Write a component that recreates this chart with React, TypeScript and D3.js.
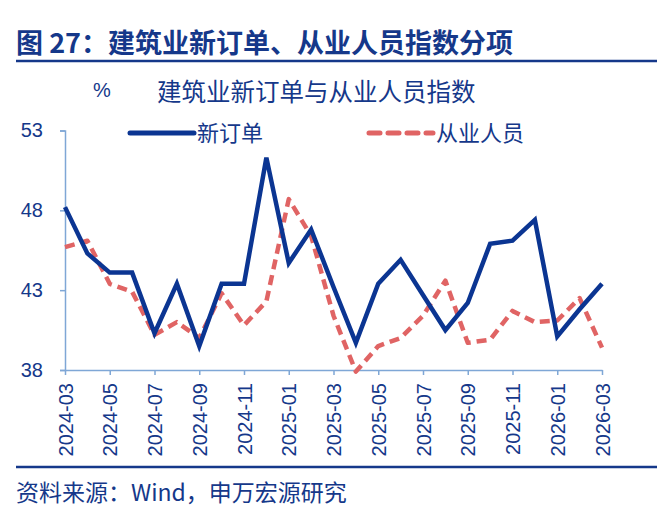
import * as d3 from 'd3';
import { useEffect, useRef } from 'react';

// monthly, 2024-03 .. 2026-03
const months = [
  '2024-03', '2024-04', '2024-05', '2024-06', '2024-07', '2024-08', '2024-09',
  '2024-10', '2024-11', '2024-12', '2025-01', '2025-02', '2025-03', '2025-04',
  '2025-05', '2025-06', '2025-07', '2025-08', '2025-09', '2025-10', '2025-11',
  '2025-12', '2026-01', '2026-02', '2026-03',
];

const newOrders = [
  48.2, 45.3, 44.1, 44.1, 40.3, 43.4, 39.5, 43.4, 43.4, 51.3, 44.7, 46.8, 43.2,
  39.7, 43.4, 44.9, 42.7, 40.5, 42.2, 45.9, 46.1, 47.4, 40.1, 41.8, 43.4,
];

const employment = [
  45.7, 46.1, 43.4, 42.9, 40.2, 41.0, 40.0, 42.8, 40.8, 42.3, 48.7, 46.4, 41.4,
  37.9, 39.5, 40.0, 41.4, 43.6, 39.7, 39.9, 41.7, 41.0, 41.1, 42.5, 39.4,
];

const xTickLabels = months.filter((_, i) => i % 2 === 0);
const yTicks = [38, 43, 48, 53];

const seriesNames = ['新订单', '从业人员'];

const FIG_TITLE = '图 27：建筑业新订单、从业人员指数分项';
const CHART_TITLE = '建筑业新订单与从业人员指数';
const SOURCE = '资料来源：Wind，申万宏源研究';

const NAVY = '#15388a';
const BLUE = '#0b3592';
const RED = '#e06464';
const AXIS = '#7fa7d6';
const CJK = '"Noto Sans CJK SC", "Liberation Sans", sans-serif';
const LATIN = '"Liberation Sans", Arial, sans-serif';

export default function App() {
  const ref = useRef<SVGSVGElement>(null);

  useEffect(() => {
    const W = 657;
    const H = 519;
    const svg = d3.select(ref.current).attr('width', W).attr('height', H);
    svg.selectAll('*').remove();

    const x = d3.scalePoint<string>().domain(months).range([65, 602]);
    const y = d3.scaleLinear().domain([38, 53]).range([370, 130.5]);

    // figure title + rules
    svg
      .append('text')
      .attr('x', 16)
      .attr('y', 53)
      .attr('font-family', CJK)
      .attr('font-weight', 'bold')
      .attr('font-size', 27)
      .attr('fill', NAVY)
      .text(FIG_TITLE);
    svg.append('line').attr('x1', 16).attr('x2', W).attr('y1', 61).attr('y2', 61)
      .attr('stroke', NAVY).attr('stroke-width', 2.5);
    svg.append('line').attr('x1', 16).attr('x2', W).attr('y1', 467).attr('y2', 467)
      .attr('stroke', NAVY).attr('stroke-width', 2.5);

    svg
      .append('text')
      .attr('x', 16)
      .attr('y', 501)
      .attr('font-family', CJK)
      .attr('font-size', 23)
      .attr('fill', NAVY)
      .text(SOURCE);

    // unit + chart title
    svg.append('text').attr('x', 93).attr('y', 97).attr('font-family', LATIN)
      .attr('font-size', 20).attr('fill', NAVY).text('%');
    svg.append('text').attr('x', 157).attr('y', 101).attr('font-family', CJK)
      .attr('font-size', 24.5).attr('fill', NAVY).text(CHART_TITLE);

    // y axis
    svg
      .append('g')
      .attr('transform', 'translate(65,0)')
      .call(d3.axisLeft(y).tickValues(yTicks).tickSize(5).tickPadding(17).tickFormat(d3.format('d')))
      .call((g) => {
        g.select('.domain').attr('stroke', AXIS).attr('stroke-width', 1.5);
        g.selectAll('.tick line').attr('stroke', AXIS).attr('stroke-width', 1.5);
        g.selectAll('.tick text')
          .attr('fill', NAVY)
          .attr('font-family', LATIN)
          .attr('font-size', 20);
      });

    // x axis
    svg
      .append('g')
      .attr('transform', 'translate(0,370)')
      .call(d3.axisBottom(x).tickValues(xTickLabels).tickSize(5).tickSizeOuter(0))
      .call((g) => {
        g.select('.domain').attr('stroke', AXIS).attr('stroke-width', 1.5);
        g.selectAll('.tick line').attr('stroke', AXIS).attr('stroke-width', 1.5);
        g.selectAll('.tick text')
          .attr('fill', NAVY)
          .attr('font-family', LATIN)
          .attr('font-size', 20)
          .attr('text-anchor', 'end')
          .attr('transform', 'rotate(-90)')
          .attr('x', -13)
          .attr('y', 0)
          .attr('dy', '0.36em');
      });

    const line = d3
      .line<number>()
      .x((_, i) => x(months[i]) ?? 0)
      .y((d) => y(d));

    svg
      .append('path')
      .datum(employment)
      .attr('fill', 'none')
      .attr('stroke', RED)
      .attr('stroke-width', 4.5)
      .attr('stroke-dasharray', '10,6')
      .attr('stroke-linejoin', 'round')
      .attr('d', line);

    svg
      .append('path')
      .datum(newOrders)
      .attr('fill', 'none')
      .attr('stroke', BLUE)
      .attr('stroke-width', 4.5)
      .attr('stroke-linejoin', 'miter')
      .attr('d', line);

    // legend
    const legend = [
      { name: seriesNames[0], color: BLUE, dash: null, x0: 128 },
      { name: seriesNames[1], color: RED, dash: '11,8', x0: 367 },
    ];
    legend.forEach((l) => {
      svg
        .append('line')
        .attr('x1', l.x0 + 2)
        .attr('x2', l.x0 + 66)
        .attr('y1', 133)
        .attr('y2', 133)
        .attr('stroke', l.color)
        .attr('stroke-width', 5)
        .attr('stroke-linecap', 'round')
        .attr('stroke-dasharray', l.dash);
      svg
        .append('text')
        .attr('x', l.x0 + 69)
        .attr('y', 141)
        .attr('font-family', CJK)
        .attr('font-size', 22)
        .attr('fill', NAVY)
        .text(l.name);
    });
  }, []);

  return <svg ref={ref} style={{ position: 'absolute', left: 0, top: 0, background: '#fff' }} />;
}
